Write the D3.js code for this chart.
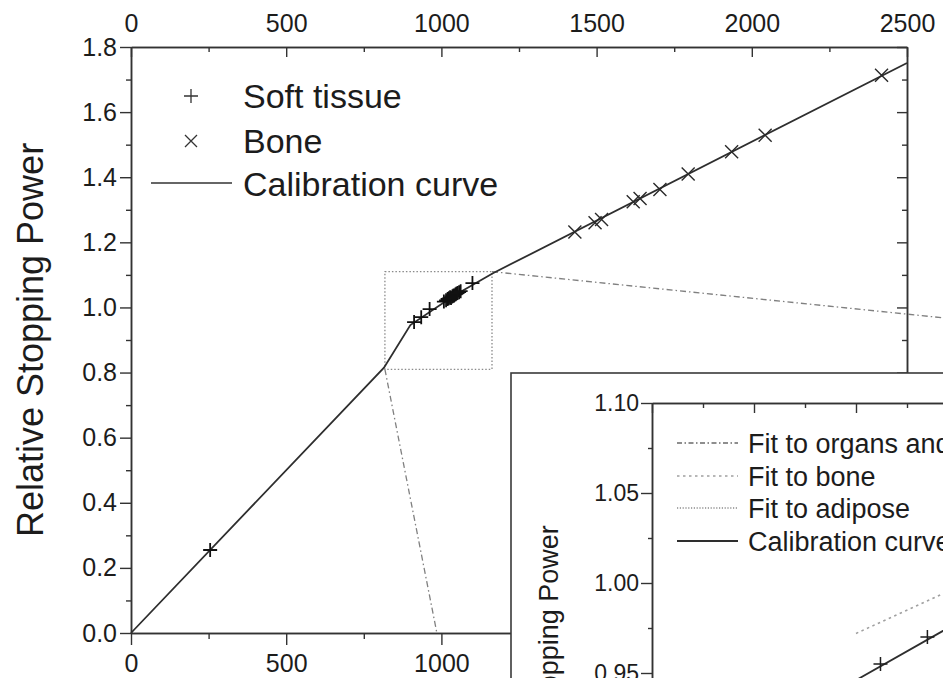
<!DOCTYPE html>
<html><head><meta charset="utf-8">
<script src="https://cdn.jsdelivr.net/npm/d3@7"></script>
<style>html,body{margin:0;padding:0;background:#fff;overflow:hidden}
text{font-family:"Liberation Sans",Arial,Helvetica,sans-serif;fill:#1c1c1c}</style>
</head><body><svg id="chart" width="943" height="678"></svg>
<script>
// ---------- data ----------
const calibrationHU  = [0, 815, 900, 1040, 1166, 2500];
const calibrationRSP = [0, 0.815, 0.946, 1.036, 1.105, 1.751];

const softTissueHU  = [255, 912, 935, 962, 1008, 1015, 1020, 1024, 1028, 1031, 1035, 1038, 1041, 1045, 1048, 1052, 1057, 1062, 1100];
const softTissueRSP = [0.255, 0.955, 0.970, 0.995, 1.018, 1.022, 1.026, 1.028, 1.031, 1.029, 1.034, 1.036, 1.037, 1.040, 1.042, 1.044, 1.047, 1.050, 1.075];

const boneHU  = [1430, 1495, 1516, 1618, 1640, 1704, 1795, 1935, 2043, 2418];
const boneRSP = [1.232, 1.260, 1.270, 1.325, 1.335, 1.362, 1.410, 1.478, 1.529, 1.713];

const boneFitHU  = [900, 1200];
const boneFitRSP = [0.972, 1.127];
const organFitHU  = [1000, 1150];
const organFitRSP = [1.005, 1.095];
const adiposeFitHU  = [800, 900];
const adiposeFitRSP = [0.80, 0.93];

const zoomBoxHU  = [818, 1163];
const zoomBoxRSP = [0.81, 1.11];

const mainXTicks = [0, 500, 1000, 1500, 2000, 2500];
const mainXMinor = [250, 750, 1250, 1750, 2250];
const mainYTicks = [0, 0.2, 0.4, 0.6, 0.8, 1.0, 1.2, 1.4, 1.6, 1.8];
const mainYMinor = [0.1, 0.3, 0.5, 0.7, 0.9, 1.1, 1.3, 1.5, 1.7];
const insetXTicks = [800, 850, 900, 950, 1000, 1050, 1100, 1150];
const insetXMinor = [825, 875, 925, 975, 1025, 1075, 1125];
const insetYTicks = [0.80, 0.85, 0.90, 0.95, 1.00, 1.05, 1.10];
const insetYMinor = [0.825, 0.875, 0.925, 0.975, 1.025, 1.075];

const mainLegend = ["Soft tissue", "Bone", "Calibration curve"];
const insetLegend = ["Fit to organs and", "Fit to bone", "Fit to adipose", "Calibration curve"];
const yLabel = "Relative Stopping Power";

// ---------- setup ----------
const svg = d3.select("#chart");
const W = 943, H = 678;
const xMain = d3.scaleLinear().domain([0, 2500]).range([131, 907]);
const yMain = d3.scaleLinear().domain([0, 1.8]).range([633, 47]);
const xIn = d3.scaleLinear().domain([800, 1150]).range([652, 1366]);
const yIn = d3.scaleLinear().domain([0.80, 1.10]).range([943, 403]);
const insetBox = { x: 511, y: 373, w: 971, h: 636 };

const AX = "#333";
const zip = (a, b) => a.map((v, i) => [v, b[i]]);

function plusPath(s) { return `M${-s},0H${s}M0,${-s}V${s}`; }
function timesPath(s) { return `M${-s},${-s}L${s},${s}M${-s},${s}L${s},${-s}`; }

function styleAxis(g, fs) {
  g.select(".domain").attr("stroke", AX).attr("stroke-width", 1.5);
  g.selectAll(".tick line").attr("stroke", AX).attr("stroke-width", 1.4);
  g.selectAll(".tick text").attr("font-size", fs).attr("fill", "#1c1c1c")
    .attr("font-family", '"Liberation Sans", Arial, sans-serif');
  g.selectAll(".tick text").filter(function () { return this.textContent === ""; }).remove();
}

// ---------- main plot ----------
const main = svg.append("g");

// minor ticks
main.append("g").attr("transform", "translate(0,633)")
  .call(d3.axisBottom(xMain).tickValues(mainXMinor).tickSize(6).tickFormat("").tickSizeOuter(0))
  .call(g => styleAxis(g, 25));
main.append("g").attr("transform", "translate(0,47)")
  .call(d3.axisTop(xMain).tickValues(mainXMinor).tickSize(-5).tickFormat("").tickSizeOuter(0))
  .call(g => styleAxis(g, 25));
main.append("g").attr("transform", "translate(131,0)")
  .call(d3.axisLeft(yMain).tickValues(mainYMinor).tickSize(5).tickFormat("").tickSizeOuter(0))
  .call(g => styleAxis(g, 25));
main.append("g").attr("transform", "translate(907,0)")
  .call(d3.axisRight(yMain).tickValues(mainYMinor).tickSize(-5).tickFormat("").tickSizeOuter(0))
  .call(g => styleAxis(g, 25));

// major axes (bottom labels hidden where the inset covers them)
main.append("g").attr("transform", "translate(0,633)")
  .call(d3.axisBottom(xMain).tickValues(mainXTicks).tickSize(12).tickPadding(9).tickSizeOuter(0)
    .tickFormat(d => xMain(d) + 30 < insetBox.x ? d3.format("d")(d) : ""))
  .call(g => styleAxis(g, 25));
main.append("g").attr("transform", "translate(0,47)")
  .call(d3.axisTop(xMain).tickValues(mainXTicks).tickSize(-10).tickPadding(15).tickSizeOuter(0).tickFormat(d3.format("d")))
  .call(g => styleAxis(g, 25));
main.append("g").attr("transform", "translate(131,0)")
  .call(d3.axisLeft(yMain).tickValues(mainYTicks).tickSize(11).tickPadding(3).tickSizeOuter(0).tickFormat(d3.format(".1f")))
  .call(g => styleAxis(g, 25));
main.append("g").attr("transform", "translate(907,0)")
  .call(d3.axisRight(yMain).tickValues(mainYTicks).tickSize(-10).tickSizeOuter(0).tickFormat(""))
  .call(g => styleAxis(g, 25));

main.append("text")
  .attr("transform", `translate(43,${(yMain.range()[0] + yMain.range()[1]) / 2}) rotate(-90)`)
  .attr("text-anchor", "middle").attr("font-size", 36).text(yLabel);

// zoom box
main.append("rect")
  .attr("x", xMain(zoomBoxHU[0])).attr("y", yMain(zoomBoxRSP[1]))
  .attr("width", xMain(zoomBoxHU[1]) - xMain(zoomBoxHU[0]))
  .attr("height", yMain(zoomBoxRSP[0]) - yMain(zoomBoxRSP[1]))
  .attr("fill", "none").attr("stroke", "#8a8a8a").attr("stroke-width", 1.3)
  .attr("stroke-dasharray", "1.5,2");

// connectors from zoom box to the inset frame
svg.append("clipPath").attr("id", "connClip")
  .append("rect").attr("x", 0).attr("y", 0).attr("width", W).attr("height", yMain(0));
const conn = main.append("g").attr("clip-path", "url(#connClip)");
conn.append("line")
  .attr("x1", xMain(zoomBoxHU[1])).attr("y1", yMain(zoomBoxRSP[1]))
  .attr("x2", insetBox.x + insetBox.w).attr("y2", insetBox.y);
conn.append("line")
  .attr("x1", xMain(zoomBoxHU[0])).attr("y1", yMain(zoomBoxRSP[0]))
  .attr("x2", insetBox.x).attr("y2", insetBox.y + insetBox.h);
conn.selectAll("line").attr("stroke", "#808080").attr("stroke-width", 1.3)
  .attr("stroke-dasharray", "6,3,1.5,3");

// calibration curve
const lineMain = d3.line().x(d => xMain(d[0])).y(d => yMain(d[1]));
main.append("path").datum(zip(calibrationHU, calibrationRSP))
  .attr("d", lineMain).attr("fill", "none").attr("stroke", "#2e2e2e").attr("stroke-width", 1.8);

// markers
main.append("g").selectAll("path").data(zip(softTissueHU, softTissueRSP)).join("path")
  .attr("transform", d => `translate(${xMain(d[0])},${yMain(d[1])})`)
  .attr("d", plusPath(7)).attr("stroke", "#111").attr("stroke-width", 1.8).attr("fill", "none");
main.append("g").selectAll("path").data(zip(boneHU, boneRSP)).join("path")
  .attr("transform", d => `translate(${xMain(d[0])},${yMain(d[1])})`)
  .attr("d", timesPath(6.5)).attr("stroke", "#2a2a2a").attr("stroke-width", 1.4).attr("fill", "none");

// main legend
const ml = main.append("g");
const mlY = [96, 141, 184];
ml.append("path").attr("transform", `translate(191,${mlY[0]})`).attr("d", plusPath(7))
  .attr("stroke", "#333").attr("stroke-width", 1.3).attr("fill", "none");
ml.append("path").attr("transform", `translate(191,${mlY[1]})`).attr("d", timesPath(6))
  .attr("stroke", "#333").attr("stroke-width", 1.3).attr("fill", "none");
ml.append("line").attr("x1", 151).attr("x2", 232).attr("y1", mlY[2] - 1).attr("y2", mlY[2] - 1)
  .attr("stroke", "#333").attr("stroke-width", 1.6);
ml.selectAll("text").data(mainLegend).join("text")
  .attr("x", 243).attr("y", (d, i) => mlY[i] + 12).attr("font-size", 34).text(d => d);

// ---------- inset ----------
const inset = svg.append("g");
inset.append("rect").attr("x", insetBox.x).attr("y", insetBox.y)
  .attr("width", insetBox.w).attr("height", insetBox.h)
  .attr("fill", "#fff").attr("stroke", "#3a3a3a").attr("stroke-width", 1.6);

svg.append("clipPath").attr("id", "inClip").append("rect")
  .attr("x", xIn.range()[0]).attr("y", yIn.range()[1])
  .attr("width", xIn.range()[1] - xIn.range()[0]).attr("height", yIn.range()[0] - yIn.range()[1]);

// inset minor ticks
inset.append("g").attr("transform", `translate(0,${yIn.range()[1]})`)
  .call(d3.axisTop(xIn).tickValues(insetXMinor).tickSize(-5).tickFormat("").tickSizeOuter(0))
  .call(g => styleAxis(g, 23));
inset.append("g").attr("transform", `translate(${xIn.range()[0]},0)`)
  .call(d3.axisLeft(yIn).tickValues(insetYMinor).tickSize(4).tickFormat("").tickSizeOuter(0))
  .call(g => styleAxis(g, 23));
// inset major axes (labels only where they fall inside the picture)
inset.append("g").attr("transform", `translate(0,${yIn.range()[1]})`)
  .call(d3.axisTop(xIn).tickValues(insetXTicks).tickSize(-10).tickFormat("").tickSizeOuter(0))
  .call(g => styleAxis(g, 23));
inset.append("g").attr("transform", `translate(${xIn.range()[0]},0)`)
  .call(d3.axisLeft(yIn).tickValues(insetYTicks).tickSize(11).tickPadding(2).tickSizeOuter(0)
    .tickFormat(d => yIn(d) < H ? d3.format(".2f")(d) : ""))
  .call(g => styleAxis(g, 23));
inset.append("g").attr("transform", `translate(0,${yIn.range()[0]})`)
  .call(d3.axisBottom(xIn).tickValues(insetXTicks).tickSize(10).tickSizeOuter(0).tickFormat(""))
  .call(g => styleAxis(g, 23));
inset.append("g").attr("transform", `translate(${xIn.range()[1]},0)`)
  .call(d3.axisRight(yIn).tickValues(insetYTicks).tickSize(-10).tickSizeOuter(0).tickFormat(""))
  .call(g => styleAxis(g, 23));

inset.append("text")
  .attr("transform", `translate(558,${(yIn.range()[0] + yIn.range()[1]) / 2}) rotate(-90)`)
  .attr("text-anchor", "middle").attr("font-size", 27).text(yLabel);

const lineIn = d3.line().x(d => xIn(d[0])).y(d => yIn(d[1]));
const inPlot = inset.append("g").attr("clip-path", "url(#inClip)");
const fitStyles = [
  { hu: organFitHU, rsp: organFitRSP, dash: "5,2.5,1.5,2.5", color: "#6a6a6a", w: 1.4 },
  { hu: boneFitHU, rsp: boneFitRSP, dash: "2.5,3.5", color: "#a0a0a0", w: 1.6 },
  { hu: adiposeFitHU, rsp: adiposeFitRSP, dash: "1.2,1.6", color: "#8c8c8c", w: 1.6 },
];
fitStyles.forEach(f => {
  inPlot.append("path").datum(zip(f.hu, f.rsp)).attr("d", lineIn).attr("fill", "none")
    .attr("stroke", f.color).attr("stroke-width", f.w).attr("stroke-dasharray", f.dash);
});
inPlot.append("path").datum(zip(calibrationHU, calibrationRSP)).attr("d", lineIn)
  .attr("fill", "none").attr("stroke", "#2e2e2e").attr("stroke-width", 1.8);
inPlot.append("g").selectAll("path").data(zip(softTissueHU, softTissueRSP)).join("path")
  .attr("transform", d => `translate(${xIn(d[0])},${yIn(d[1])})`)
  .attr("d", plusPath(7)).attr("stroke", "#1e1e1e").attr("stroke-width", 1.5).attr("fill", "none");
inPlot.append("g").selectAll("path").data(zip(boneHU, boneRSP)).join("path")
  .attr("transform", d => `translate(${xIn(d[0])},${yIn(d[1])})`)
  .attr("d", timesPath(6.5)).attr("stroke", "#2a2a2a").attr("stroke-width", 1.4).attr("fill", "none");

// inset legend
const ilY = [443, 476, 508, 541];
const ilStyles = [fitStyles[0], fitStyles[1], fitStyles[2], { dash: null, color: "#2e2e2e", w: 1.8 }];
const il = inset.append("g");
ilStyles.forEach((s, i) => {
  const l = il.append("line").attr("x1", 677).attr("x2", 738).attr("y1", ilY[i]).attr("y2", ilY[i])
    .attr("stroke", s.color).attr("stroke-width", s.w);
  if (s.dash) l.attr("stroke-dasharray", s.dash);
});
il.selectAll("text").data(insetLegend).join("text")
  .attr("x", 748).attr("y", (d, i) => ilY[i] + 9.5).attr("font-size", 27).text(d => d);
</script>
</body></html>
